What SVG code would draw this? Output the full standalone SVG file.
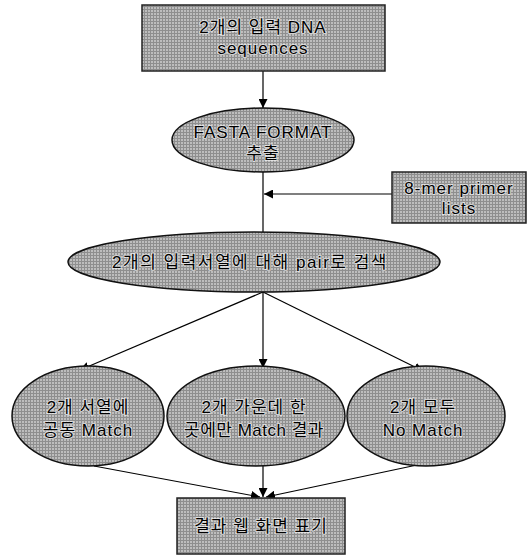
<svg xmlns="http://www.w3.org/2000/svg" width="528" height="558" viewBox="0 0 528 558">
<defs>
<pattern id="dither" width="3" height="3" patternUnits="userSpaceOnUse">
<rect width="3" height="3" fill="#bdbdbd"/>
<rect width="3" height="1" fill="#8e8e8e"/>
<rect width="1" height="3" fill="#8e8e8e"/>
</pattern>
<marker id="arr" viewBox="0 0 10 10" refX="10" refY="5" markerWidth="9" markerHeight="9" markerUnits="userSpaceOnUse" orient="auto">
<path d="M0,0 L10,5 L0,10 z" fill="#000"/>
</marker>
</defs>
<style>
.box{fill:url(#dither);stroke:#222;stroke-width:1.5}
.ell{fill:url(#dither);stroke:#111;stroke-width:1.5}
.t{font-family:"Liberation Sans","Noto Sans CJK KR",sans-serif;font-size:17px;letter-spacing:1px;fill:#000;text-anchor:middle;paint-order:stroke;stroke:#fff;stroke-width:2px;stroke-opacity:0.6}
.c{stroke:#000;stroke-width:1.2;fill:none}
</style>
<g id="connectors">
<line class="c" x1="263" y1="71" x2="263" y2="108" marker-end="url(#arr)"/>
<line class="c" x1="263" y1="172" x2="263" y2="232"/>
<line class="c" x1="392" y1="194" x2="264" y2="194" marker-end="url(#arr)"/>
<line class="c" x1="263" y1="292" x2="80" y2="370" marker-end="url(#arr)"/>
<line class="c" x1="263" y1="292" x2="263" y2="368" marker-end="url(#arr)"/>
<line class="c" x1="263" y1="292" x2="423" y2="371" marker-end="url(#arr)"/>
<line class="c" x1="94" y1="466" x2="260" y2="497" marker-end="url(#arr)"/>
<line class="c" x1="263" y1="466" x2="263" y2="497" marker-end="url(#arr)"/>
<line class="c" x1="417" y1="465" x2="266" y2="497" marker-end="url(#arr)"/>
</g>
<g id="n1">
<rect class="box" x="142" y="5" width="243" height="66"/>
<text class="t" x="263" y="33">2개의 입력 DNA</text>
<text class="t" x="263" y="54">sequences</text>
</g>
<g id="n2">
<ellipse class="ell" cx="263" cy="140" rx="91" ry="32"/>
<text class="t" x="263" y="138">FASTA FORMAT</text>
<text class="t" x="263" y="159">추출</text>
</g>
<g id="n3">
<rect class="box" x="392" y="172" width="134" height="51"/>
<text class="t" x="459" y="194">8-mer primer</text>
<text class="t" x="459" y="214">lists</text>
</g>
<g id="n4">
<ellipse class="ell" cx="254" cy="262" rx="186" ry="30"/>
<text class="t" x="250" y="268" style="letter-spacing:1.5px">2개의 입력서열에 대해 pair로 검색</text>
</g>
<g id="n5">
<ellipse class="ell" cx="88" cy="416" rx="76" ry="50"/>
<text class="t" x="88" y="413">2개 서열에</text>
<text class="t" x="88" y="436">공동 Match</text>
</g>
<g id="n6">
<ellipse class="ell" cx="256" cy="416" rx="89" ry="50"/>
<text class="t" x="254" y="413">2개 가운데 한</text>
<text class="t" x="254" y="436" style="letter-spacing:0.5px">곳에만 Match 결과</text>
</g>
<g id="n7">
<ellipse class="ell" cx="426" cy="416" rx="79" ry="50"/>
<text class="t" x="423" y="413">2개 모두</text>
<text class="t" x="423" y="436">No Match</text>
</g>
<g id="n8">
<rect class="box" x="177" y="498" width="168" height="56"/>
<text class="t" x="261" y="532">결과 웹 화면 표기</text>
</g>
</svg>
